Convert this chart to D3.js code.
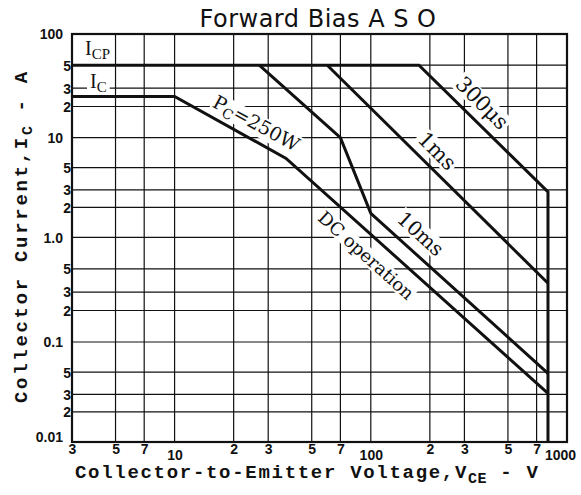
<!DOCTYPE html>
<html>
<head>
<meta charset="utf-8">
<script src="https://cdn.jsdelivr.net/npm/d3@7/dist/d3.min.js"></script>
<style>
  body { margin:0; background:#fff; }
  svg { display:block; }
</style>
</head>
<body>
<div id="chart"></div>
<script>
// tick values and labels
var xTicks = [3,5,7,10,20,30,50,70,100,200,300,500,700,1000];
var xTickLabels = ["3","5","7","10","2","3","5","7","100","2","3","5","7","1000"];
var yTicks = [100,50,30,20,10,5,3,2,1,0.5,0.3,0.2,0.1,0.05,0.03,0.02,0.01];
var yTickLabels = ["100","5","3","2","10","5","3","2","1.0","5","3","2","0.1","5","3","2","0.01"];

// curves, [VCE (V), IC (A)]
var icpLine = [[3,50],[176,50],[800,2.85],[800,0.01]];
var line1ms = [[60,50],[800,0.364]];
var line10ms = [[27,50],[70,10],[100,1.74],[800,0.0486]];
var lineDC = [[3,25],[10,25],[37,6.2],[800,0.0307]];

var W = 581, H = 495;
var svg = d3.select("#chart").append("svg")
  .attr("width",W).attr("height",H)
  .style("background","#fff");

var x = d3.scaleLog().domain([3,1000]).range([72,567]);
// the printed decades are not all the same height
var y = d3.scaleLog().domain([100,10,1,0.1,0.01]).range([34,137.7,237.3,342,442]);

var ink = "#111";
var tickFont = "'Liberation Sans', Arial, sans-serif";
var monoFont = "'Liberation Mono', 'Courier New', monospace";
var serifFont = "'DejaVu Serif', 'Liberation Serif', serif";

// grid
var grid = svg.append("g").attr("stroke",ink).attr("stroke-width",1.2);
grid.selectAll("line.v").data(xTicks).enter().append("line")
  .attr("x1",function(d){ return x(d); }).attr("x2",function(d){ return x(d); })
  .attr("y1",y(100)).attr("y2",y(0.01));
grid.selectAll("line.h").data(yTicks).enter().append("line")
  .attr("y1",function(d){ return y(d); }).attr("y2",function(d){ return y(d); })
  .attr("x1",x(3)).attr("x2",x(1000));

// frame
svg.append("rect")
  .attr("x",x(3)).attr("y",y(100))
  .attr("width",x(1000)-x(3)).attr("height",y(0.01)-y(100))
  .attr("fill","none").attr("stroke",ink).attr("stroke-width",2.2);

// axes (labels only, grid done above)
var isMajor = function(v){ return [0.01,0.1,1,10,100,1000].indexOf(v) >= 0; };

var xAxis = svg.append("g").attr("transform","translate(0,"+y(0.01)+")")
  .call(d3.axisBottom(x).tickValues(xTicks).tickSize(0).tickPadding(0)
    .tickFormat(function(d,i){ return xTickLabels[i]; }));
xAxis.select(".domain").remove();
xAxis.selectAll("text")
  .attr("font-family",tickFont).attr("font-weight","bold").attr("font-size",14)
  .attr("fill",ink).attr("dy",0)
  .attr("y",function(d){ return isMajor(d) ? 18 : 12; })
  .attr("x",function(d){ return d == 1000 ? -7 : 0; });

var yAxis = svg.append("g").attr("transform","translate("+x(3)+",0)")
  .call(d3.axisLeft(y).tickValues(yTicks).tickSize(0).tickPadding(0)
    .tickFormat(function(d,i){ return yTickLabels[i]; }));
yAxis.select(".domain").remove();
yAxis.selectAll("text")
  .attr("font-family",tickFont).attr("font-weight","bold").attr("font-size",14)
  .attr("fill",ink).attr("dy","0.35em")
  .attr("x",function(d){ return isMajor(d) ? -9 : -1; })
  .attr("y",function(d){ return d == 0.01 ? -5 : 0; });

// curves
var line = d3.line().x(function(d){ return x(d[0]); }).y(function(d){ return y(d[1]); });
var curves = svg.append("g");
curves.selectAll("path").data([icpLine,line1ms,line10ms,lineDC]).enter()
  .append("path")
  .attr("d",line)
  .attr("fill","none").attr("stroke",ink).attr("stroke-width",3)
  .attr("stroke-linejoin","miter");

// labels inside the plot; a white box behind clears the grid like the print
var labels = svg.append("g");
function plotLabel(tx,ty,angle,size,anchor){
  return labels.append("text")
    .attr("transform","translate("+tx+","+ty+") rotate("+angle+")")
    .attr("text-anchor",anchor || "middle")
    .attr("font-family",serifFont).attr("font-size",size)
    .attr("fill",ink);
}
function clearBehind(t,pad){
  var b = t.node().getBBox();
  labels.insert("rect",function(){ return t.node(); })
    .attr("transform",t.attr("transform"))
    .attr("x",b.x-pad).attr("y",b.y+2).attr("width",b.width+2*pad).attr("height",b.height-4)
    .attr("fill","#fff");
}

var icp = plotLabel(85,55,0,20,"start").attr("font-family","'Liberation Serif', serif");
icp.append("tspan").text("I");
icp.append("tspan").attr("font-size",15).attr("dy",4).text("CP");
clearBehind(icp,2);

var ic = plotLabel(90,88,0,20,"start").attr("font-family","'Liberation Serif', serif");
ic.append("tspan").text("I");
ic.append("tspan").attr("font-size",15).attr("dy",4).text("C");
clearBehind(ic,3);

var pc = plotLabel(253,129,28.6,19);
pc.append("tspan").text("P");
pc.append("tspan").attr("font-size",14).attr("dy",4).text("C");
pc.append("tspan").attr("dy",-4).text("=250W");
clearBehind(pc,1);

clearBehind(plotLabel(477,108,45,21).text("300\u03bcs"),2);
clearBehind(plotLabel(432,156,45,21).text("1ms"),2);
clearBehind(plotLabel(416,239,42.4,20).text("10ms"),2);
clearBehind(plotLabel(362,260,42,18).text("DC operation"),1);
// keep the curves on top of the boxes
curves.raise();
labels.selectAll("text").raise();

// title
svg.append("text").attr("x",318).attr("y",27)
  .attr("text-anchor","middle")
  .attr("font-family","'DejaVu Sans', Verdana, sans-serif").attr("font-size",24)
  .attr("letter-spacing",0.5)
  .attr("fill",ink).text("Forward Bias A S O");

// axis titles
var xt = svg.append("text").attr("x",75).attr("y",478)
  .attr("font-family",monoFont).attr("font-weight","bold").attr("font-size",19)
  .attr("letter-spacing",1.7).attr("fill",ink);
xt.append("tspan").text("Collector-to-Emitter Voltage,V");
xt.append("tspan").attr("font-size",15).attr("dy",5).attr("letter-spacing",0.5).text("CE");
xt.append("tspan").attr("dy",-5).text(" - V");

var yt = svg.append("text").attr("transform","translate(27,403) rotate(-90)")
  .attr("font-family",monoFont).attr("font-weight","bold").attr("font-size",19)
  .attr("letter-spacing",2.7).attr("fill",ink);
yt.append("tspan").text("Collector Current,I");
yt.append("tspan").attr("font-size",15).attr("dy",5).attr("letter-spacing",0.5).text("C");
yt.append("tspan").attr("dy",-5).text(" - A");
</script>
</body>
</html>
